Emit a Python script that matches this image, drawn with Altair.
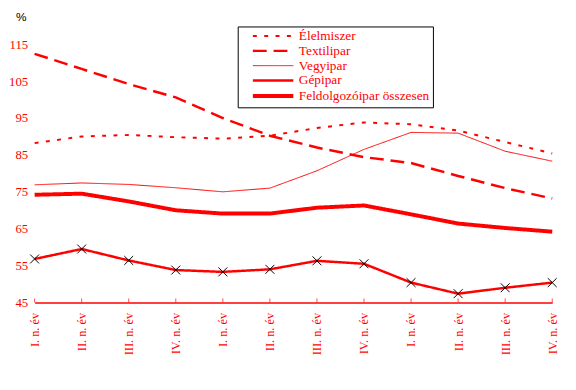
import altair as alt
import pandas as pd

quarters = ["I. n. év", "II. n. év", "III. n. év", "IV. n. év",
            "I. n. év", "II. n. év", "III. n. év", "IV. n. év",
            "I. n. év", "II. n. év", "III. n. év", "IV. n. év"]
series = ["Élelmiszer", "Textilipar", "Vegyipar", "Gépipar", "Feldolgozóipar összesen"]
elelmiszer = [88.2, 90.0, 90.4, 89.8, 89.4, 90.2, 92.3, 93.8, 93.3, 91.6, 88.5, 85.4]
textilipar = [112.4, 108.3, 104.2, 100.6, 95.0, 90.2, 87.0, 84.4, 82.8, 79.3, 76.0, 73.2]
vegyipar = [76.9, 77.4, 77.0, 76.1, 75.0, 76.0, 80.7, 86.5, 91.1, 90.9, 86.0, 83.3]
gepipar = [56.8, 59.5, 56.4, 53.8, 53.3, 54.0, 56.3, 55.5, 50.4, 47.4, 49.0, 50.4]
feldolgozo = [74.2, 74.5, 72.4, 70.0, 69.1, 69.1, 70.7, 71.3, 68.9, 66.4, 65.2, 64.2]
y_ticks = [45, 55, 65, 75, 85, 95, 105, 115]

rows = []
for name, vals in zip(series, [elelmiszer, textilipar, vegyipar, gepipar, feldolgozo]):
    for i, v in enumerate(vals):
        rows.append({"i": i, "series": name, "value": v})
df = pd.DataFrame(rows)
df_gep = df[df["series"] == "Gépipar"]
df_ticks = pd.DataFrame({"i": list(range(len(quarters)))})

label_expr = "[" + ",".join("'" + q + "'" for q in quarters) + "][datum.value]"

x_enc = alt.X(
    "i:Q",
    scale=alt.Scale(domain=[0, len(quarters) - 1], nice=False, zero=False),
    axis=alt.Axis(
        values=list(range(len(quarters))), tickCount=20, labelExpr=label_expr,
        labelAngle=270, labelAlign="right", labelBaseline="middle", labelColor="red",
        labelFont="Liberation Serif", labelFontSize=12.5, labelPadding=10,
        labelOverlap=False, ticks=False, domainColor="red", domainWidth=1.5,
        grid=False, title=None,
    ),
)
y_enc = alt.Y(
    "value:Q",
    scale=alt.Scale(domain=[45, 115], nice=False, zero=False),
    axis=alt.Axis(
        values=y_ticks, tickCount=20, labelColor="red", labelFont="Liberation Serif",
        labelFontSize=13, labelPadding=7, labelOverlap=False, domain=False,
        ticks=False, grid=False,
        title="%", titleAngle=0, titleColor="black", titleFont="Liberation Sans",
        titleFontSize=12, titleFontWeight="normal", titleX=-14, titleY=-28,
        titleAlign="center", titleBaseline="middle",
    ),
)

lines = alt.Chart(df).mark_line(color="red").encode(
    x=x_enc,
    y=y_enc,
    strokeDash=alt.StrokeDash(
        "series:N",
        scale=alt.Scale(domain=series, range=[[4, 7.5], [14, 7], [1, 0], [1, 0], [1, 0]]),
        legend=alt.Legend(title=None),
    ),
    strokeWidth=alt.StrokeWidth(
        "series:N",
        scale=alt.Scale(type="ordinal", domain=series, range=[2, 2.5, 1, 2.5, 4]),
        legend=alt.Legend(title=None),
    ),
)

markers = alt.Chart(df_gep).mark_point(
    shape="M-1,-1L1,1M-1,1L1,-1", size=81, color="black", strokeWidth=1, filled=False, opacity=1
).encode(x="i:Q", y="value:Q")

ticks = alt.Chart(df_ticks).mark_tick(
    orient="vertical", color="red", size=4, thickness=1, yOffset=-2
).encode(x="i:Q", y=alt.datum(45))

chart = alt.layer(lines, markers, ticks).properties(
    width=525, height=262,
    autosize=alt.AutoSizeParams(type="none"),
    padding={"left": 27, "top": 34, "right": 16, "bottom": 86},
    background="white",
).configure_view(stroke=None).configure_axis(
    labelOverlap=False, labelColor="red", labelFont="Liberation Serif"
).configure_legend(
    orient="none", legendX=206, legendY=-18, padding=3,
    strokeColor="black", fillColor="white",
    symbolType="M-1,0H7", symbolSize=105, symbolOffset=10, symbolStrokeColor="red",
    symbolFillColor="transparent",
    labelColor="red", labelFont="Liberation Serif", labelFontSize=13.5,
    labelOffset=34, rowPadding=0, titleFontSize=0,
)

chart.save("out.html", embed_options={"renderer": "svg", "actions": False})
